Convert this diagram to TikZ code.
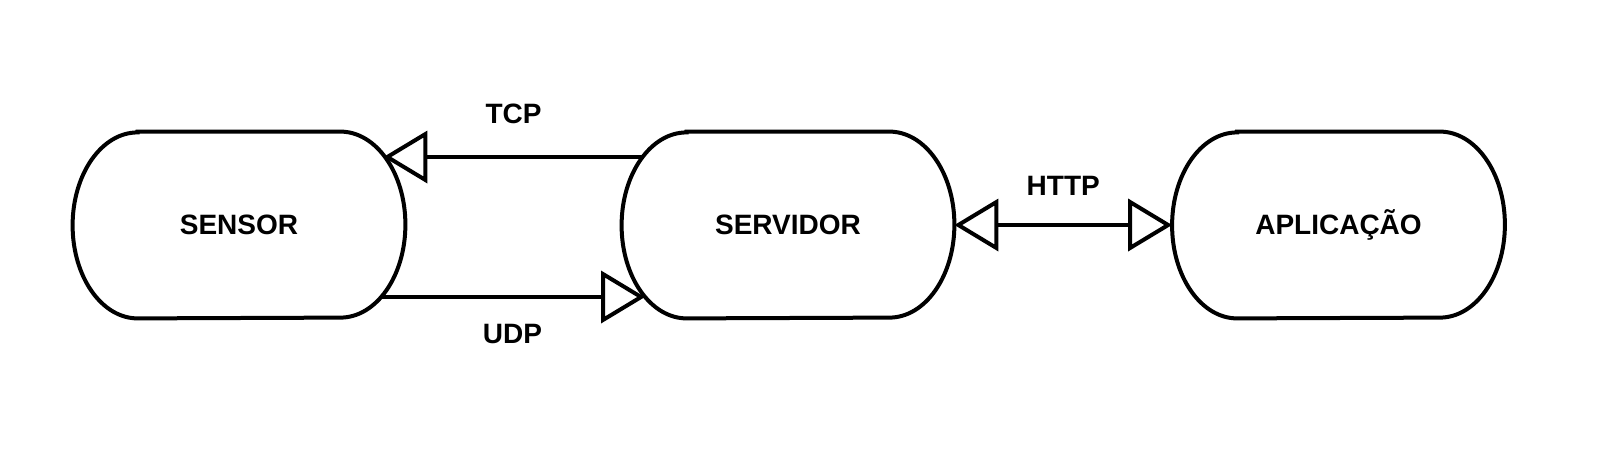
\documentclass[tikz,border=0pt]{standalone}
\usepackage{fontspec}
\setmainfont{Liberation Sans}
\usetikzlibrary{arrows.meta}
\tikzstyle{endpoint} = [rectangle, minimum width=166pt, minimum height=93pt, text centered, draw=none, font=\fontsize{14pt}{16pt}\selectfont\bfseries]
\tikzstyle{outline} = [line width=2pt, draw=black]
\tikzstyle{arrow} = [line width=2pt, -{Triangle[open, length=22pt, width=26pt]}]
\tikzstyle{darrow} = [line width=2pt, {Triangle[open, length=22pt, width=26pt]}-{Triangle[open, length=22pt, width=26pt]}]
\tikzstyle{proto} = [font=\fontsize{14pt}{16pt}\selectfont\bfseries]

\begin{document}
\begin{tikzpicture}
\useasboundingbox (0,0) rectangle (801.5pt,-233.5pt);

\node (sensor) [endpoint] at (119.5pt,-112.5pt) {SENSOR};

\node (servidor) [endpoint] at (394pt,-112.5pt) {SERVIDOR};

\node (aplicacao) [endpoint] at (669.25pt,-112.5pt) {APLICAÇÃO};

% contorno com pontas elipticas
\foreach \n in {sensor,servidor,aplicacao}{
  \draw [outline] ([xshift=32.5pt]\n.north west) -- ([xshift=-32.5pt]\n.north east)
    arc[start angle=90, end angle=-90, x radius=32.5pt, y radius=46.5pt]
    -- ([xshift=32.5pt]\n.south west)
    arc[start angle=270, end angle=90, x radius=32.5pt, y radius=46.5pt] -- cycle;
}

\draw [arrow] ([shift={(-72.2pt,34pt)}]servidor.center) -- ([shift={(72.2pt,34pt)}]sensor.center)
  node [proto, midway, yshift=21.5pt] {TCP};

\draw [arrow] ([shift={(70.5pt,-36pt)}]sensor.center) -- ([shift={(-71.5pt,-36pt)}]servidor.center)
  node [proto, midway, yshift=-18.5pt] {UDP};

\draw [darrow] (servidor.east) -- (aplicacao.west)
  node [proto, midway, yshift=19.5pt] {HTTP};

\end{tikzpicture}
\end{document}
